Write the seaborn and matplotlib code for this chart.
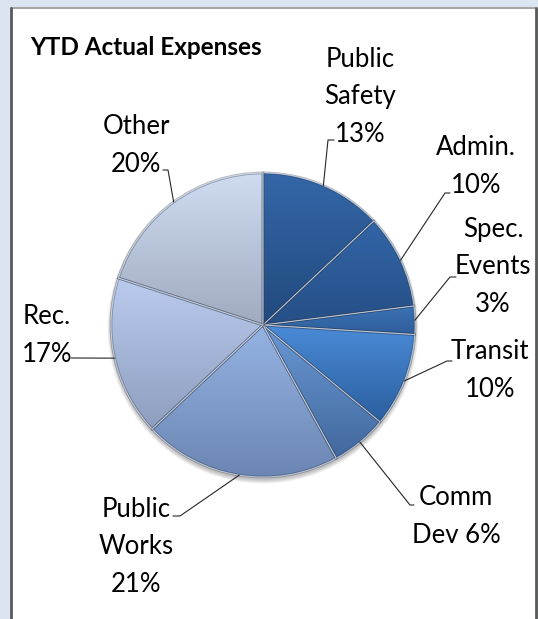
import numpy as np
import matplotlib
matplotlib.use("Agg")
import matplotlib.pyplot as plt
import matplotlib.patheffects as pe
from matplotlib.patches import Circle
import seaborn as sns

sns.set_theme(style="white")
plt.rcParams["font.family"] = ["Lato", "DejaVu Sans"]

# --- data -----------------------------------------------------------------
categories = ["Public\nSafety", "Admin.", "Spec.\nEvents", "Transit",
              "Comm\nDev", "Public\nWorks", "Rec.", "Other"]
shares = [13, 10, 3, 10, 6, 21, 17, 20]
label_sep = ["\n", "\n", "\n", "\n", " ", "\n", "\n", "\n"]

# top / bottom shade of each slice
shade_top = ["#3466a7", "#3265a7", "#3b72b6", "#4a8ad6",
             "#6a98d4", "#95b3e3", "#bacbee", "#cedbf1"]
shade_bottom = ["#214a7e", "#264f86", "#2e5d98", "#2b5f9f",
                "#42699f", "#6b86b2", "#8e9ebe", "#a0abc0"]

# label placement: centre x, baseline of last line, leader elbow, tick end
label_xy = [(360, 142), (476, 193), (493, 312), (490, 397),
            (456, 543), (136, 592), (47, 362), (136, 172)]
elbow_xy = [(328, 140), (445, 193), (450, 277), (447, 361),
            (410, 505), (180, 516), (76, 358), (168, 170)]
tick_end_x = [334, 450, 456, 452, 414, 173, 71, 163]

W, H = 538, 619
fig = plt.figure(figsize=(W / 100, H / 100), dpi=100)
fig.patch.set_facecolor("#dbe5f1")
ax = fig.add_axes([0, 0, 1, 1])
ax.set_facecolor("#dbe5f1")

# white chart panel with its frame
ax.fill_between([11, 536], 8, H + 5, color="white", zorder=0)
ax.plot([11, 536], [8, 8], color="#a6a6a6", lw=1.5, zorder=0.5)
ax.plot([11, 11], [8, H + 5], color="#595959", lw=2, zorder=0.5)
ax.plot([536, 536], [8, H + 5], color="#595959", lw=2, zorder=0.5)

cx, cy, r = 263, 325, 152

# soft shadow under the pie
for i in range(7):
    ax.add_patch(Circle((cx, cy + 3), r + 0.6 * i, color="black",
                        alpha=0.035, lw=0, zorder=0.8))

wedges, _ = ax.pie(shares, center=(cx, cy), radius=r, startangle=-90,
                   counterclock=True, frame=True,
                   wedgeprops=dict(facecolor="none", edgecolor="none"))

for w, top, bot in zip(wedges, shade_top, shade_bottom):
    ext = w.get_path().get_extents()
    grad = np.array(sns.blend_palette([top, bot], 64))[:, :3]
    img = ax.imshow(grad[:, None, :], extent=(ext.x0, ext.x1, ext.y1, ext.y0),
                    origin="upper", aspect="auto", interpolation="bilinear",
                    zorder=1)
    img.set_clip_path(w)
    w.set_zorder(2)
    w.set_edgecolor("#ffffff")
    w.set_linewidth(0.7)
    w.set_path_effects([
        pe.Stroke(linewidth=2.0, foreground="#2a3a55", alpha=0.35),
        pe.Stroke(linewidth=0.7, foreground="white", alpha=0.55),
    ])

# data labels with leader lines
for w, name, sep, v, (lx, ly), (ex, ey), tx in zip(
        wedges, categories, label_sep, shares, label_xy, elbow_xy, tick_end_x):
    theta = np.deg2rad(0.5 * (w.theta1 + w.theta2))
    ax_, ay_ = cx + r * np.cos(theta), cy + r * np.sin(theta)
    ax.plot([ax_, ex, tx], [ay_, ey, ey], color="#262626", lw=0.8, zorder=3)
    ax.text(lx, ly, f"{name}{sep}{v}%", ha="center", va="baseline",
            fontsize=18.5, linespacing=1.63, color="black", zorder=4)

ax.text(30, 55, "YTD Actual Expenses", ha="left", va="baseline",
        fontsize=17.5, fontweight="bold", color="black", zorder=4)

ax.set_xlim(0, W)
ax.set_ylim(H, 0)
ax.set_aspect("auto")
ax.axis("off")

fig.savefig("out.png", dpi=100, facecolor=fig.get_facecolor())
